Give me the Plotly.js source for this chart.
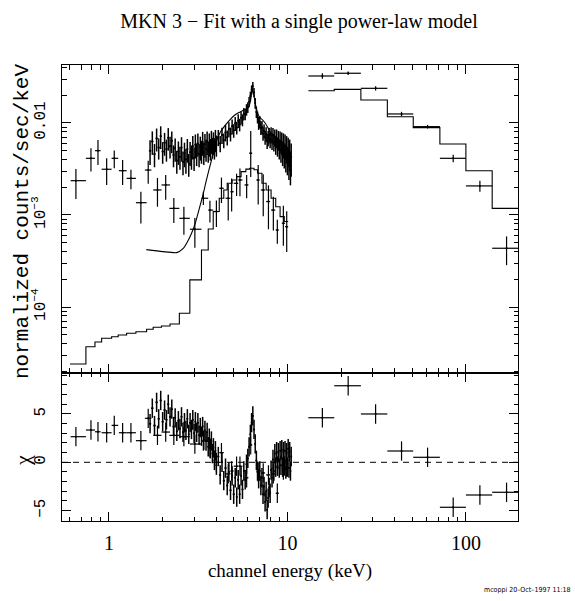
<!DOCTYPE html>
<html><head><meta charset="utf-8">
<script src="https://cdn.plot.ly/plotly-3.0.1.min.js"></script>
<style>html,body{margin:0;padding:0;background:#fff;}#chart{width:575px;height:601px;}</style>
</head><body><div id="chart"></div>
<script>
// ---------- LECS (low energy) data ----------
var lecsE  = [0.653,0.793,0.868,0.971,1.071,1.193,1.328,1.51,1.66,1.87,2.08,2.31,2.63,3.03,3.38,3.68,4.0,4.27,4.66,4.87,5.19,5.42,5.91,6.23,6.86,7.32,7.83,8.34,8.78,9.49,9.91];
var lecsLo = [0.61,0.743,0.835,0.91,1.035,1.137,1.256,1.416,1.59,1.77,1.97,2.18,2.48,2.84,3.30,3.60,3.84,4.15,4.5,4.8,5.0,5.3,5.75,6.1,6.7,7.1,7.6,8.1,8.6,9.3,9.7];
var lecsHi = [0.743,0.835,0.898,1.035,1.127,1.256,1.416,1.626,1.73,1.97,2.20,2.48,2.84,3.30,3.60,3.84,4.15,4.4,4.8,5.0,5.3,5.6,6.05,6.35,7.0,7.5,8.0,8.55,8.95,9.7,10.1];
var lecsY  = [2.36e-3,4.13e-3,5.0e-3,3.14e-3,4.13e-3,3.03e-3,2.5e-3,1.36e-3,3.08e-3,1.87e-3,2.12e-3,1.18e-3,9.2e-4,7.0e-4,1.52e-3,1.13e-3,1.09e-3,1.95e-3,1.52e-3,1.79e-3,2.21e-3,2.40e-3,2.12e-3,4.69e-3,2.40e-3,1.87e-3,1.40e-3,1.13e-3,6.87e-4,8.13e-4,7.46e-4];
var lecsErrUp = [8.0e-4,1.18e-3,1.53e-3,9.9e-4,9.0e-4,9.3e-4,6.0e-4,4.3e-4,8.0e-4,6.5e-4,6.0e-4,3.5e-4,3.1e-4,2.3e-4,2.7e-4,3.0e-4,3.5e-4,6.0e-4,6.5e-4,7.0e-4,6.0e-4,8.0e-4,6.0e-4,3.5e-3,1.1e-3,9.0e-4,7.0e-4,4.5e-4,2.0e-4,4.5e-4,3.5e-4];
var lecsErrDn = [8.7e-4,1.17e-3,1.51e-3,1.02e-3,9.0e-4,9.1e-4,6.0e-4,5.5e-4,9.0e-4,6.4e-4,6.6e-4,3.6e-4,3.1e-4,2.6e-4,2.4e-4,3.0e-4,3.5e-4,6.0e-4,6.5e-4,7.0e-4,6.0e-4,8.0e-4,6.0e-4,2.1e-3,1.1e-3,9.0e-4,7.0e-4,4.5e-4,2.0e-4,3.5e-4,3.5e-4];
var lecsRes = [2.65,3.34,3.16,3.06,3.82,3.06,3.06,2.24,4.55,2.79,3.13,2.79,2.65,1.89,2.2,1.5,0.0,1.0,-1.2,-0.9,-0.4,-0.4,-1.6,1.8,-1.0,-1.1,-1.3,-1.2,-3.2,-0.8,-0.5];
var lecsModelEdges = [0.605,0.743,0.835,0.91,1.035,1.127,1.256,1.416,1.626,1.77,1.97,2.2,2.48,2.84,3.3,3.6,3.84,4.15,4.4,4.6,4.9,5.2,5.5,5.85,6.15,6.5,6.8,7.2,7.6,8.1,8.6,9.1,9.6,10.1];
var lecsModelY = [2.40e-5,3.70e-5,4.17e-5,4.57e-5,4.75e-5,4.96e-5,5.18e-5,5.39e-5,5.73e-5,6.02e-5,6.22e-5,6.53e-5,8.55e-5,1.97e-4,4.17e-4,7.05e-4,1.09e-3,1.52e-3,1.87e-3,2.21e-3,2.40e-3,2.61e-3,2.96e-3,3.15e-3,3.22e-3,3.10e-3,2.84e-3,2.21e-3,1.87e-3,1.52e-3,1.23e-3,9.6e-4,8.5e-4];

// ---------- MECS (medium energy) data ----------
var mecsE = [1.70,1.75,1.80,1.85,1.90,1.95,2.00,2.05,2.10,2.15,2.20,2.25,2.30,2.35,2.40,2.45,2.50,2.55,2.60,2.65,
             2.70,2.75,2.80,2.85,2.90,2.95,3.00,3.05,3.10,3.15,3.20,3.25,3.30,3.35,3.40,3.45,3.50,3.55,3.60,3.65,
             3.70,3.75,3.80,3.85,3.90,3.95,4.00,
             4.1,4.2,4.3,4.4,4.5,4.6,4.7,4.8,4.9,5.0,5.1,5.2,5.3,5.4,5.5,5.6,5.7,5.8,5.9,6.0,
             6.1,6.2,6.3,6.4,6.5,6.6,6.7,6.8,6.9,7.0,7.1,7.2,7.3,7.4,7.5,7.6,7.7,7.8,7.9,8.0,
             8.1,8.2,8.3,8.4,8.5,8.6,8.7,8.8,8.9,9.0,9.1,9.2,9.3,9.4,9.5,9.6,9.7,9.8,9.9,10.0,
             10.1,10.2,10.3,10.4,10.5];
var mecsY = [5.0e-3,6.3e-3,4.6e-3,6.8e-3,5.4e-3,7.2e-3,4.9e-3,6.1e-3,5.2e-3,6.9e-3,5.6e-3,6.4e-3,4.5e-3,5.3e-3,3.9e-3,4.9e-3,4.3e-3,5.4e-3,3.8e-3,4.7e-3,
             4.0e-3,5.2e-3,3.6e-3,4.8e-3,4.4e-3,5.6e-3,4.2e-3,5.8e-3,4.7e-3,6.0e-3,4.6e-3,5.5e-3,5.0e-3,6.2e-3,4.8e-3,5.9e-3,5.2e-3,6.3e-3,5.0e-3,6.0e-3,
             5.3e-3,6.4e-3,5.5e-3,6.2e-3,5.4e-3,6.6e-3,5.8e-3,
             7.0e-3,6.0e-3,7.4e-3,6.5e-3,7.9e-3,7.0e-3,8.6e-3,7.6e-3,9.2e-3,8.3e-3,
             9.9e-3,8.9e-3,10.6e-3,9.6e-3,11.4e-3,10.8e-3,12.6e-3,12.4e-3,14.0e-3,14.8e-3,
             17.0e-3,19.5e-3,23.0e-3,25.0e-3,21.5e-3,16.5e-3,13.2e-3,11.6e-3,10.0e-3,10.3e-3,
             8.8e-3,9.0e-3,7.7e-3,8.2e-3,7.0e-3,7.6e-3,6.4e-3,6.9e-3,7.4e-3,6.6e-3,
             7.5e-3,6.4e-3,7.3e-3,6.2e-3,7.0e-3,5.8e-3,6.9e-3,5.6e-3,6.6e-3,5.3e-3,
             6.4e-3,5.1e-3,6.2e-3,4.8e-3,5.9e-3,4.6e-3,5.7e-3,4.3e-3,5.4e-3,4.1e-3,
             5.1e-3,3.8e-3,4.8e-3,3.5e-3,4.3e-3];
var mecsErr = [1.5e-3,1.8e-3,1.3e-3,1.9e-3,1.4e-3,2.0e-3,1.3e-3,1.7e-3,1.4e-3,1.9e-3,1.5e-3,1.7e-3,1.2e-3,1.5e-3,1.1e-3,1.4e-3,1.2e-3,1.6e-3,1.1e-3,1.4e-3,
               1.2e-3,1.5e-3,1.0e-3,1.4e-3,1.3e-3,1.6e-3,1.2e-3,1.7e-3,1.3e-3,1.7e-3,1.3e-3,1.6e-3,1.4e-3,1.8e-3,1.3e-3,1.7e-3,1.4e-3,1.8e-3,1.3e-3,1.7e-3,
               1.4e-3,1.8e-3,1.4e-3,1.7e-3,1.4e-3,1.8e-3,1.5e-3,
               1.4e-3,1.2e-3,1.5e-3,1.2e-3,1.6e-3,1.3e-3,1.6e-3,1.3e-3,1.7e-3,1.4e-3,
               1.7e-3,1.4e-3,1.8e-3,1.5e-3,1.8e-3,1.6e-3,1.9e-3,1.7e-3,2.0e-3,2.0e-3,
               2.2e-3,2.4e-3,2.6e-3,2.8e-3,2.5e-3,2.2e-3,1.9e-3,1.7e-3,1.6e-3,1.6e-3,
               1.4e-3,1.5e-3,1.3e-3,1.4e-3,1.2e-3,1.4e-3,1.2e-3,1.3e-3,1.4e-3,1.3e-3,
               1.5e-3,1.3e-3,1.5e-3,1.3e-3,1.5e-3,1.3e-3,1.6e-3,1.3e-3,1.6e-3,1.3e-3,
               1.7e-3,1.4e-3,1.7e-3,1.4e-3,1.8e-3,1.4e-3,1.8e-3,1.4e-3,1.8e-3,1.4e-3,
               1.8e-3,1.4e-3,1.8e-3,1.4e-3,1.7e-3];
var mecsRes = [4.0,5.6,3.8,6.2,4.5,6.4,4.2,5.4,4.4,6.0,4.7,5.5,3.7,4.6,3.2,4.3,3.5,4.7,3.1,4.1,
               3.3,4.5,2.9,4.1,3.4,4.4,3.0,4.2,3.1,4.1,2.8,3.6,2.7,3.7,2.3,3.3,2.2,3.1,1.6,2.5,
               1.4,2.2,0.9,1.5,0.2,1.2,-0.3,
               0.6,-1.3,0.0,-1.9,-0.6,-2.4,-1.0,-2.9,-1.4,-3.3,
               -1.6,-3.6,-1.8,-3.3,-1.4,-2.8,-0.9,-1.8,-0.2,0.4,
               1.6,2.9,4.1,4.8,3.4,1.9,0.2,-0.9,-1.7,-0.9,
               -2.4,-1.6,-3.3,-2.5,-4.1,-3.0,-4.9,-3.7,-2.6,-3.2,
               -0.8,-1.6,0.3,-0.9,0.9,-0.5,1.1,-0.4,1.0,-0.6,
               1.2,-0.3,1.3,-0.5,1.1,-0.4,1.2,-0.7,1.0,-0.5,
               1.4,-0.6,1.1,-0.9,0.6];
var mecsModelE = [1.62,2.0,2.4,2.6,2.75,2.9,3.05,3.2,3.35,3.5,3.65,3.8,4.0,4.2,4.4,4.6,4.8,5.0,5.2,5.4,5.6,5.8,6.0,6.15,6.25,6.35,6.45,6.55,6.7,6.85,7.0,7.25,7.5,7.75,8.0,8.5,9.0,9.5,10.0,10.5];
var mecsModelY = [4.2e-4,4.0e-4,3.9e-4,4.3e-4,5.1e-4,6.3e-4,8.2e-4,1.15e-3,1.6e-3,2.3e-3,3.2e-3,4.3e-3,6.3e-3,7.9e-3,9.0e-3,1.0e-2,1.1e-2,1.19e-2,1.26e-2,1.31e-2,1.36e-2,1.41e-2,1.46e-2,1.6e-2,1.9e-2,2.2e-2,2.15e-2,1.8e-2,1.42e-2,1.24e-2,1.15e-2,1.08e-2,1.0e-2,9.0e-3,8.0e-3,7.2e-3,6.2e-3,5.6e-3,4.9e-3,4.3e-3];

// ---------- PDS (high energy) data ----------
var pdsE = [15.7,21.9,31.2,43.6,61.0,84.9,119.8,169];
var pdsEdges = [13.1,18.3,25.8,36.3,50.7,71.5,100,140.4,196];
var pdsY = [0.0324,0.0347,0.0238,0.01253,0.00912,0.00413,0.00207,4.35e-4];
var pdsErr = [2.2e-3,1.5e-3,1.2e-3,7e-4,4.2e-4,3.8e-4,2.8e-4,1.5e-4];
var pdsModel = [0.0224,0.0232,0.0178,0.0117,0.0089,0.0059,0.00303,0.00118];
var pdsRes = [4.61,7.92,5.0,1.17,0.52,-4.65,-3.38,-3.10];

// ---------- labels ----------
var titleText = 'MKN 3 \u2212 Fit with a single power-law model';
var xTitle = 'channel energy (keV)';
var yTitle = 'normalized counts/sec/keV';
var resTitle = '\u03c7';
var stamp = 'mcoppi 20\u2013Oct\u20131997 11:18';
var xTickVals = [1,10,100], xTickText = ['1','10','100'];
var yTickVals = [1e-4,1e-3,1e-2], yTickText = ['10<sup>\u22124</sup>','10<sup>\u22123</sup>','0.01'];
var rTickVals = [-5,0,5], rTickText = ['\u22125','0','5'];

// ---------- build ----------
function steps(edges, vals){ var x=[],y=[]; for(var i=0;i<vals.length;i++){x.push(edges[i]);y.push(vals[i]);} x.push(edges[edges.length-1]); y.push(vals[vals.length-1]); return {x:x,y:y}; }
function diff(a,b){ return a.map(function(v,i){return v-b[i];}); }
var pdsLo = pdsEdges.slice(0,-1), pdsHi = pdsEdges.slice(1);
var blk = 'black';
var eb = {color:blk, thickness:1.2, width:0};
var ebM = {color:blk, thickness:1.5, width:0};
function ex(hi,lo,xs){ return Object.assign({type:'data', symmetric:false, array:diff(hi,xs), arrayminus:diff(xs,lo)}, eb); }
var mk = {size:2, color:blk};
var mecsHalf = mecsE.map(function(e){ return e < 4.05 ? 0.025 : 0.05; });

var lm = steps(lecsModelEdges, lecsModelY);
var pm = steps(pdsEdges, pdsModel);

var traces = [
 {x:lecsE, y:lecsY, mode:'markers', marker:mk, xaxis:'x', yaxis:'y',
  error_x:ex(lecsHi,lecsLo,lecsE), error_y:Object.assign({type:'data',symmetric:false,array:lecsErrUp,arrayminus:lecsErrDn},eb)},
 {x:mecsE, y:mecsY, mode:'markers', marker:mk, xaxis:'x', yaxis:'y',
  error_x:Object.assign({type:'data', array:mecsHalf},ebM), error_y:Object.assign({type:'data',array:mecsErr},ebM)},
 {x:pdsE, y:pdsY, mode:'markers', marker:mk, xaxis:'x', yaxis:'y',
  error_x:ex(pdsHi,pdsLo,pdsE), error_y:Object.assign({type:'data',array:pdsErr},eb)},
 {x:lm.x, y:lm.y, mode:'lines', line:{color:blk,width:1.1,shape:'hv'}, xaxis:'x', yaxis:'y'},
 {x:mecsModelE, y:mecsModelY, mode:'lines', line:{color:blk,width:1.1,shape:'spline',smoothing:0.6}, xaxis:'x', yaxis:'y'},
 {x:pm.x, y:pm.y, mode:'lines', line:{color:blk,width:1.1,shape:'hv'}, xaxis:'x', yaxis:'y'},
 {x:lecsE, y:lecsRes, mode:'markers', marker:mk, xaxis:'x2', yaxis:'y2',
  error_x:ex(lecsHi,lecsLo,lecsE), error_y:Object.assign({type:'constant',value:1},eb)},
 {x:mecsE, y:mecsRes, mode:'markers', marker:mk, xaxis:'x2', yaxis:'y2',
  error_x:Object.assign({type:'data', array:mecsHalf},ebM), error_y:Object.assign({type:'constant',value:1},ebM)},
 {x:pdsE, y:pdsRes, mode:'markers', marker:mk, xaxis:'x2', yaxis:'y2',
  error_x:ex(pdsHi,pdsLo,pdsE), error_y:Object.assign({type:'constant',value:1},eb)}
];

var axBase = {showline:true, linecolor:blk, linewidth:1, mirror:'allticks', ticks:'inside', ticklen:9, tickwidth:1, tickcolor:blk, showgrid:false, zeroline:false};
var minorLog = {ticks:'inside', ticklen:4.5, tickcolor:blk, tickwidth:1, dtick:'D1', showgrid:false};
var monoFont = {family:'Liberation Mono, DejaVu Sans Mono, monospace', size:16, color:blk};
var serif = 'Liberation Serif, DejaVu Serif, serif';

var layout = {
 width:575, height:601, margin:{l:62, r:57, t:65, b:80},
 paper_bgcolor:'white', plot_bgcolor:'white', showlegend:false,
 title:{text:titleText, font:{family:serif, size:20, color:blk}, xref:'container', x:0.52, xanchor:'center', yref:'container', y:1-21/601, yanchor:'middle'},
 xaxis:Object.assign({}, axBase, {type:'log', range:[-0.263,2.292], domain:[0,1], anchor:'y', tickmode:'array', tickvals:xTickVals, ticktext:xTickText, showticklabels:false, minor:minorLog}),
 xaxis2:Object.assign({}, axBase, {type:'log', range:[-0.263,2.292], domain:[0,1], anchor:'y2', matches:'x', tickmode:'array', tickvals:xTickVals, ticktext:xTickText, showticklabels:true, ticklabelstandoff:4,
   tickfont:{family:serif, size:20, color:blk}, minor:minorLog,
   title:{text:xTitle, font:{family:serif, size:19, color:blk}, standoff:10}}),
 yaxis:Object.assign({}, axBase, {type:'log', range:[-4.717,-1.370], domain:[0.3246,1], anchor:'x', tickmode:'array', tickvals:yTickVals, ticktext:yTickText, tickangle:-90, tickfont:monoFont, ticklabelstandoff:10, minor:minorLog}),
 yaxis2:Object.assign({}, axBase, {type:'linear', range:[-6.07,9.24], domain:[0,0.3246], anchor:'x2', tickmode:'array', tickvals:rTickVals, ticktext:rTickText, tickangle:-90, tickfont:monoFont, ticklabelstandoff:10,
   minor:{ticks:'inside', ticklen:4.5, tickcolor:blk, tickwidth:1, dtick:1, showgrid:false}}),
 shapes:[{type:'line', xref:'x2 domain', yref:'y2', x0:0, x1:1, y0:0, y1:0, line:{color:blk, width:1, dash:'6px,5px'}}],
 annotations:[
  {text:yTitle, xref:'paper', yref:'paper', x:(22-62)/456, y:(521-222)/456, textangle:-90, showarrow:false, xanchor:'center', yanchor:'middle', font:{family:'Liberation Mono, DejaVu Sans Mono, monospace', size:21, color:blk}},
  {text:resTitle, xref:'paper', yref:'paper', x:(22-62)/456, y:(521-461)/456, textangle:-90, showarrow:false, xanchor:'center', yanchor:'middle', font:{family:serif, size:22, color:blk}},
  {text:stamp, xref:'paper', yref:'paper', x:(573-62)/456, y:(521-590)/456, showarrow:false, xanchor:'right', yanchor:'middle', font:{family:'Liberation Sans Narrow, DejaVu Sans Condensed, sans-serif', size:7, color:blk}}
 ]
};
Plotly.newPlot('chart', traces, layout, {staticPlot:true, displayModeBar:false});
</script>
</body></html>
